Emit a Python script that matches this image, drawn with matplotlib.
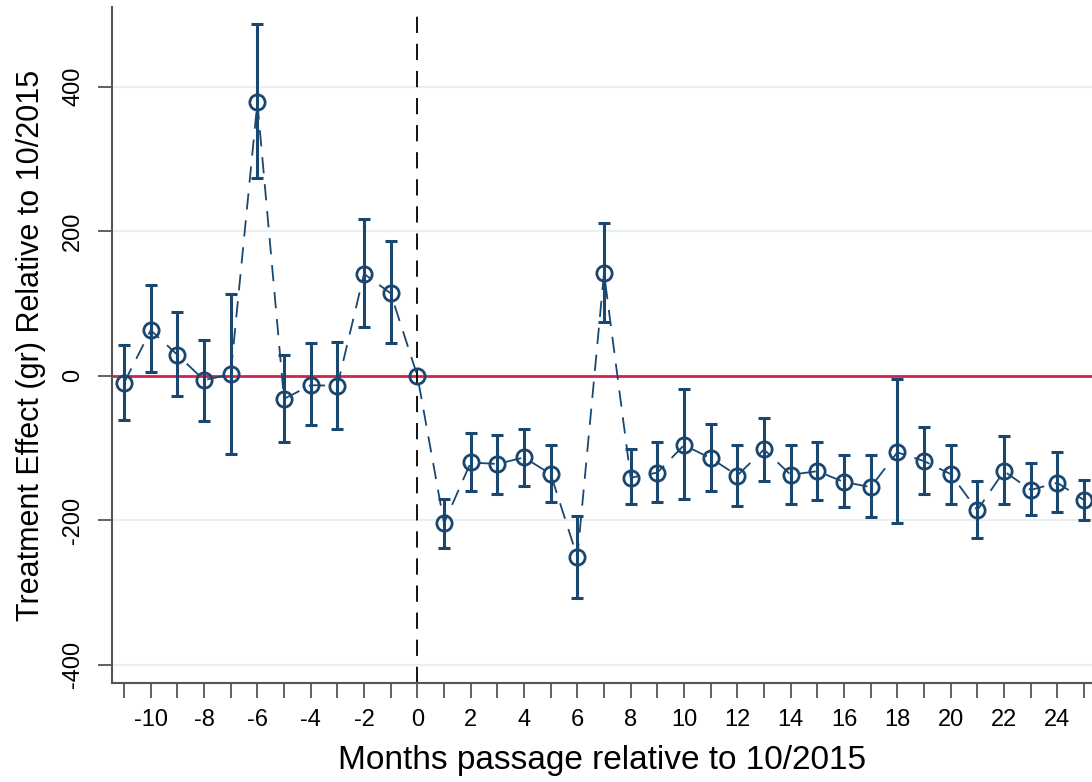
import numpy as np
import matplotlib.pyplot as plt

plt.rcParams['font.family'] = ['Liberation Sans', 'DejaVu Sans']

months = list(range(-11, 26))
effect = [-10, 63, 29, -6, 2, 378, -32, -13, -14, 141, 114, 0,
          -204, -120, -122, -113, -136, -251, 142, -141, -134, -96, -114, -138,
          -102, -137, -132, -147, -154, -106, -118, -136, -186, -132, -158, -148, -172]
ci_hi = [43, 125, 88, 49, 113, 486, 29, 45, 47, 217, 187, 0,
         -170, -79, -82, -73, -96, -194, 211, -102, -92, -19, -67, -96,
         -59, -96, -92, -110, -110, -5, -71, -96, -145, -84, -121, -106, -144]
ci_lo = [-61, 5, -28, -62, -108, 274, -92, -68, -73, 67, 45, 0,
         -238, -160, -163, -153, -174, -307, 74, -177, -174, -170, -159, -180,
         -145, -177, -172, -182, -195, -204, -163, -177, -225, -178, -192, -189, -199]

x = np.array(months)
y = np.array(effect)
lo = y - np.array(ci_lo)
hi = np.array(ci_hi) - y
has_err = (lo + hi) > 0

navy = '#1a476f'

fig = plt.figure(figsize=(10.92, 7.82), dpi=100)
ax = fig.add_axes([0.1026, 0.1266, 0.8974, 0.8644])

# light grid lines
for yy in [-400, -200, 200, 400]:
    ax.axhline(yy, color='#e8f0f2', lw=1.5, zorder=0)

ax.axhline(0, color='#d4224c', lw=2, zorder=1)
ax.axvline(0, color='black', lw=1.3, ls=(0, (9, 6)), zorder=1)

ax.errorbar(x[has_err], y[has_err], yerr=[lo[has_err], hi[has_err]],
            fmt='none', ecolor=navy, elinewidth=2.2, capsize=4.5, capthick=2.2, zorder=2)
ax.plot(x, y, color=navy, lw=1.3, ls=(0, (9, 6)), zorder=3)
ax.plot(x, y, ls='none', marker='o', ms=11, mfc='none', mec=navy, mew=2, zorder=4)

ax.set_xlim(-11.45, 25.3)
ax.set_ylim(-425, 510)
ax.set_xticks(range(-11, 26))
ax.set_xticklabels([str(m) if m % 2 == 0 else '' for m in range(-11, 26)])
ax.set_yticks([-400, -200, 0, 200, 400])
ax.set_yticklabels(['-400', '-200', '0', '200', '400'], rotation=90, va='center')

ax.tick_params(axis='x', length=11, width=1.3, color='#555555', labelsize=17, pad=8)
ax.tick_params(axis='y', length=10, width=1.3, color='#555555', labelsize=17, pad=10)

for s in ['top', 'right']:
    ax.spines[s].set_visible(False)
for s in ['left', 'bottom']:
    ax.spines[s].set_color('#555555')
    ax.spines[s].set_linewidth(1.5)

ax.set_xlabel('Months passage relative to 10/2015', fontsize=24, labelpad=10)
ax.set_ylabel('Treatment Effect (gr) Relative to 10/2015', fontsize=22, labelpad=12)

fig.savefig('out.png', dpi=100)
